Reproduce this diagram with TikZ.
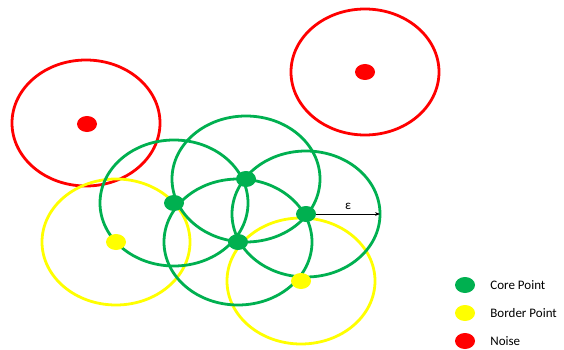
\documentclass[tikz,border=0pt]{standalone}
\usepackage{fontspec}
\setmainfont{Carlito}
\usetikzlibrary{arrows.meta,positioning,shapes.geometric}
\definecolor{coregreen}{RGB}{0,176,80}
\definecolor{borderyellow}{RGB}{255,255,0}
\definecolor{noisered}{RGB}{255,0,0}

\begin{document}
\begin{tikzpicture}[
  x=1pt, y=-1pt,
  >={Stealth[length=5pt]},
  ring/.style={line width=2.8pt},
  dot/.style={ellipse, minimum width=20pt, minimum height=16pt, inner sep=0pt},
  lbl/.style={font=\fontsize{13}{15}\selectfont, anchor=west, inner sep=0pt},
]
  \useasboundingbox (0,0) rectangle (564,350);

  % ---------------- eps-neighbourhoods
  \foreach \x/\y/\c in {86/123/noisered, 365/72/noisered, 116/242/borderyellow, 301/281/borderyellow,
                        174/203/coregreen, 246/179/coregreen, 306/214/coregreen, 238/242/coregreen}
    \draw[ring, \c] (\x,\y) ellipse [x radius=74, y radius=63];

  % ---------------- points
  \node[dot, fill=noisered] (n1) at (87,124) {};
  \node[dot, fill=noisered] (n2) at (365,72) {};
  \node[dot, fill=borderyellow] (b1) at (116,242) {};
  \node[dot, fill=borderyellow] (b2) at (301,281) {};
  \node[dot, fill=coregreen] (c1) at (174,203) {};
  \node[dot, fill=coregreen] (c2) at (246,179) {};
  \node[dot, fill=coregreen] (c3) at (306,214) {};
  \node[dot, fill=coregreen] (c4) at (238,242) {};

  % ---------------- radius
  \coordinate (eps) at (380,214);
  \draw[->, line width=0.7pt] (c3) -- (eps) node[midway, above=1pt, font=\fontsize{13}{15}\selectfont] {ε};

  % ---------------- legend
  \node[dot, fill=coregreen] (kcore) at (465,285) {};
  \node[dot, fill=borderyellow] (kborder) at (465,313) {};
  \node[dot, fill=noisered] (knoise) at (465,341) {};
  \node[lbl, right=15pt of kcore] (tcore) {Core Point};
  \node[lbl, right=15pt of kborder] (tborder) {Border Point};
  \node[lbl, right=15pt of knoise] (tnoise) {Noise};
\end{tikzpicture}
\end{document}
